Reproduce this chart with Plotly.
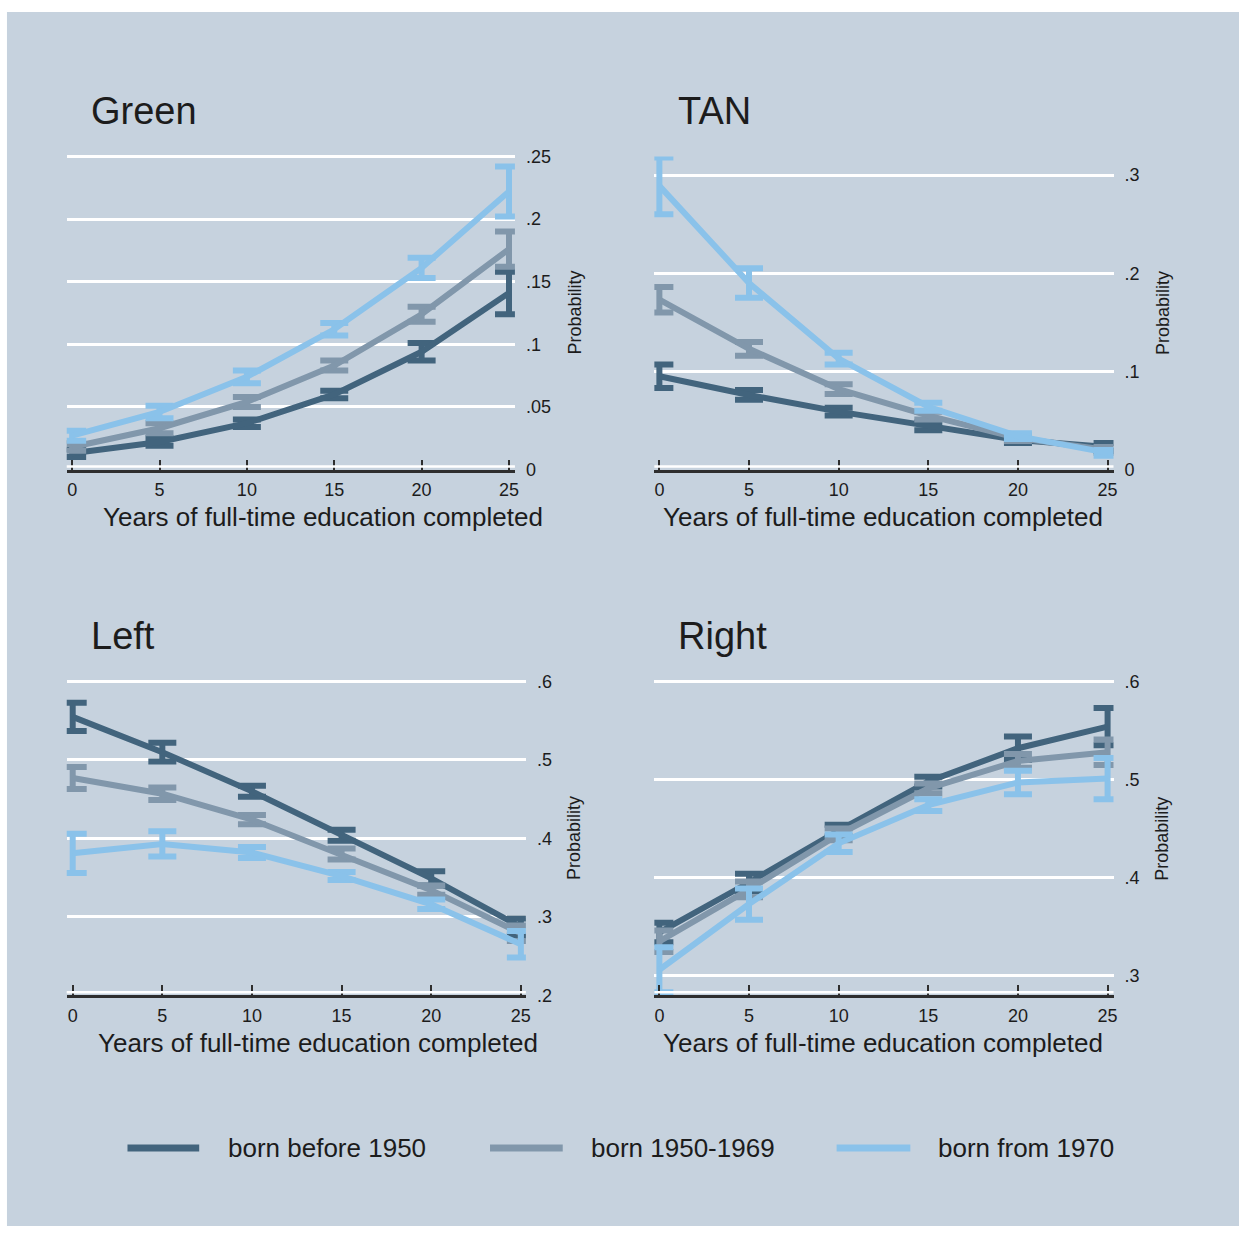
import plotly.graph_objects as go

# ---- data -------------------------------------------------------------
years = [0, 5, 10, 15, 20, 25]
cohorts = ["born before 1950", "born 1950-1969", "born from 1970"]
cohort_colors = ["#42647d", "#8197ab", "#8ac2ea"]

panel_titles = ["Green", "TAN", "Left", "Right"]

# predicted probabilities (one list per cohort) and 95% CI half-widths
green_prob = [
    [0.013, 0.022, 0.037, 0.060, 0.094, 0.141],
    [0.018, 0.033, 0.054, 0.083, 0.124, 0.176],
    [0.027, 0.046, 0.074, 0.112, 0.161, 0.222],
]
green_ci = [
    [0.003, 0.003, 0.003, 0.003, 0.007, 0.017],
    [0.003, 0.004, 0.004, 0.004, 0.006, 0.014],
    [0.004, 0.005, 0.005, 0.005, 0.008, 0.020],
]

tan_prob = [
    [0.095, 0.076, 0.059, 0.044, 0.030, 0.023],
    [0.173, 0.123, 0.082, 0.055, 0.032, 0.020],
    [0.289, 0.190, 0.113, 0.064, 0.034, 0.017],
]
tan_ci = [
    [0.012, 0.005, 0.004, 0.004, 0.003, 0.004],
    [0.013, 0.007, 0.005, 0.004, 0.003, 0.003],
    [0.029, 0.015, 0.006, 0.004, 0.003, 0.003],
]

left_prob = [
    [0.555, 0.510, 0.460, 0.404, 0.349, 0.287],
    [0.477, 0.457, 0.424, 0.380, 0.334, 0.279],
    [0.381, 0.393, 0.382, 0.352, 0.316, 0.265],
]
left_ci = [
    [0.018, 0.012, 0.007, 0.007, 0.009, 0.011],
    [0.014, 0.008, 0.006, 0.007, 0.006, 0.010],
    [0.025, 0.016, 0.007, 0.005, 0.006, 0.017],
]

right_prob = [
    [0.344, 0.395, 0.448, 0.498, 0.532, 0.554],
    [0.335, 0.388, 0.444, 0.491, 0.519, 0.528],
    [0.306, 0.373, 0.435, 0.474, 0.497, 0.501],
]
right_ci = [
    [0.010, 0.009, 0.006, 0.005, 0.012, 0.019],
    [0.011, 0.008, 0.006, 0.005, 0.007, 0.013],
    [0.023, 0.016, 0.009, 0.006, 0.012, 0.021],
]

green_ticks = [0, 0.05, 0.10, 0.15, 0.20, 0.25]
green_labels = ["0", ".05", ".1", ".15", ".2", ".25"]
tan_ticks = [0, 0.1, 0.2, 0.3]
tan_labels = ["0", ".1", ".2", ".3"]
left_ticks = [0.2, 0.3, 0.4, 0.5, 0.6]
left_labels = [".2", ".3", ".4", ".5", ".6"]
right_ticks = [0.3, 0.4, 0.5, 0.6]
right_labels = [".3", ".4", ".5", ".6"]

x_label = "Years of full-time education completed"
y_label = "Probability"

# ---- layout geometry (pixels) ------------------------------------------
W, H = 1244, 1236
BG = "#c6d2de"
INK = "#1c1c1c"
AXIS = "#2e2e2e"
FONT = "Liberation Sans, Arial, sans-serif"


def px_x(p):
    return p / W


def px_y(p):
    return 1 - p / H


# plot regions reach a few pixels above the top tick so its grid line is kept
panels = [
    dict(title=panel_titles[0], prob=green_prob, ci=green_ci,
         xdom=(67, 517), ydom=(148.5, 469), xr=[-0.31, 25.34], yr=[0, 0.25236],
         ticks=green_ticks, labels=green_labels,
         title_xy=(89, 105), xlab_xy=(324, 517), ylab_xy=(577, 310)),
    dict(title=panel_titles[1], prob=tan_prob, ci=tan_ci,
         xdom=(657, 1118), ydom=(151.5, 469), xr=[-0.28, 25.33], yr=[0, 0.319],
         ticks=tan_ticks, labels=tan_labels,
         title_xy=(679, 105), xlab_xy=(887, 517), ylab_xy=(1167, 310)),
    dict(title=panel_titles[2], prob=left_prob, ci=left_ci,
         xdom=(67, 528), ydom=(681, 1002), xr=[-0.333, 25.28], yr=[0.2, 0.60377],
         ticks=left_ticks, labels=left_labels,
         title_xy=(89, 638), xlab_xy=(319, 1050), ylab_xy=(577, 843)),
    dict(title=panel_titles[3], prob=right_prob, ci=right_ci,
         xdom=(657, 1118), ydom=(681, 1002), xr=[-0.28, 25.33], yr=[0.28, 0.603],
         ticks=right_ticks, labels=right_labels,
         title_xy=(679, 638), xlab_xy=(887, 1050), ylab_xy=(1167, 843)),
]

fig = go.Figure()
layout = dict(
    width=W, height=H,
    margin=dict(l=0, r=0, t=0, b=0),
    paper_bgcolor="white",
    plot_bgcolor="rgba(0,0,0,0)",
    font=dict(family=FONT, color=INK),
    showlegend=False,
)
shapes = [
    # graph region background (thin white edge at top and left)
    dict(type="rect", xref="paper", yref="paper", x0=px_x(7), x1=1,
         y0=0, y1=px_y(5), fillcolor=BG, line=dict(width=0), layer="below"),
]
annotations = []

for i, p in enumerate(panels):
    n = "" if i == 0 else str(i + 1)
    xa, ya = "x" + n, "y" + n
    for k in range(len(cohorts)):
        fig.add_trace(go.Scatter(
            x=years, y=p["prob"][k], mode="lines", name=cohorts[k],
            xaxis=xa, yaxis=ya,
            line=dict(color=cohort_colors[k], width=6),
            error_y=dict(type="data", array=p["ci"][k], visible=True,
                         color=cohort_colors[k], thickness=6, width=14),
            cliponaxis=False,
        ))
    layout["xaxis" + n] = dict(
        domain=[px_x(p["xdom"][0]), px_x(p["xdom"][1])], range=p["xr"],
        anchor=ya, tickvals=years, ticks="inside", ticklen=10, tickwidth=1.5,
        tickcolor=AXIS, showline=True, linecolor=AXIS, linewidth=2.5,
        showgrid=False, zeroline=False, ticklabelstandoff=2,
        tickfont=dict(size=18, color=INK),
    )
    layout["yaxis" + n] = dict(
        domain=[px_y(p["ydom"][1]), px_y(p["ydom"][0])], range=p["yr"],
        anchor=xa, side="right", tickvals=p["ticks"], ticktext=p["labels"],
        ticks="", showline=False, zeroline=False, showgrid=True,
        gridcolor="white", gridwidth=2.5, ticklabelstandoff=10,
        tickfont=dict(size=18, color=INK),
    )
    # white highlight running just above the x axis line
    shapes.append(dict(type="line", xref=xa + " domain", yref=ya + " domain",
                       x0=0, x1=1, ysizemode="pixel", yanchor=0, y0=3, y1=3,
                       line=dict(color="white", width=2.5)))
    tx, ty = p["title_xy"]
    annotations.append(dict(text=p["title"], xref="paper", yref="paper",
                            x=px_x(tx), y=px_y(ty), xanchor="left", yanchor="middle",
                            showarrow=False, font=dict(size=38, color=INK)))
    lx, ly = p["xlab_xy"]
    annotations.append(dict(text=x_label, xref="paper", yref="paper",
                            x=px_x(lx), y=px_y(ly), xanchor="center", yanchor="middle",
                            showarrow=False, font=dict(size=26, color=INK)))
    vx, vy = p["ylab_xy"]
    annotations.append(dict(text=y_label, xref="paper", yref="paper",
                            x=px_x(vx), y=px_y(vy), xanchor="center", yanchor="middle",
                            textangle=-90, showarrow=False,
                            font=dict(size=18, color=INK)))

# legend row: swatch start, swatch end, text start (pixels)
legend_slots = [(128, 200, 227), (492, 565, 591), (840, 914, 940)]
legend_y = 1157
for k, (s0, s1, t0) in enumerate(legend_slots):
    shapes.append(dict(type="line", xref="paper", yref="paper",
                       x0=px_x(s0), x1=px_x(s1), y0=px_y(legend_y), y1=px_y(legend_y),
                       line=dict(color=cohort_colors[k], width=7)))
    annotations.append(dict(text=cohorts[k], xref="paper", yref="paper",
                            x=px_x(t0), y=px_y(legend_y), xanchor="left",
                            yanchor="middle", showarrow=False,
                            font=dict(size=26, color=INK)))

layout["shapes"] = shapes
layout["annotations"] = annotations
fig.update_layout(**layout)

fig.write_html("out.html")
